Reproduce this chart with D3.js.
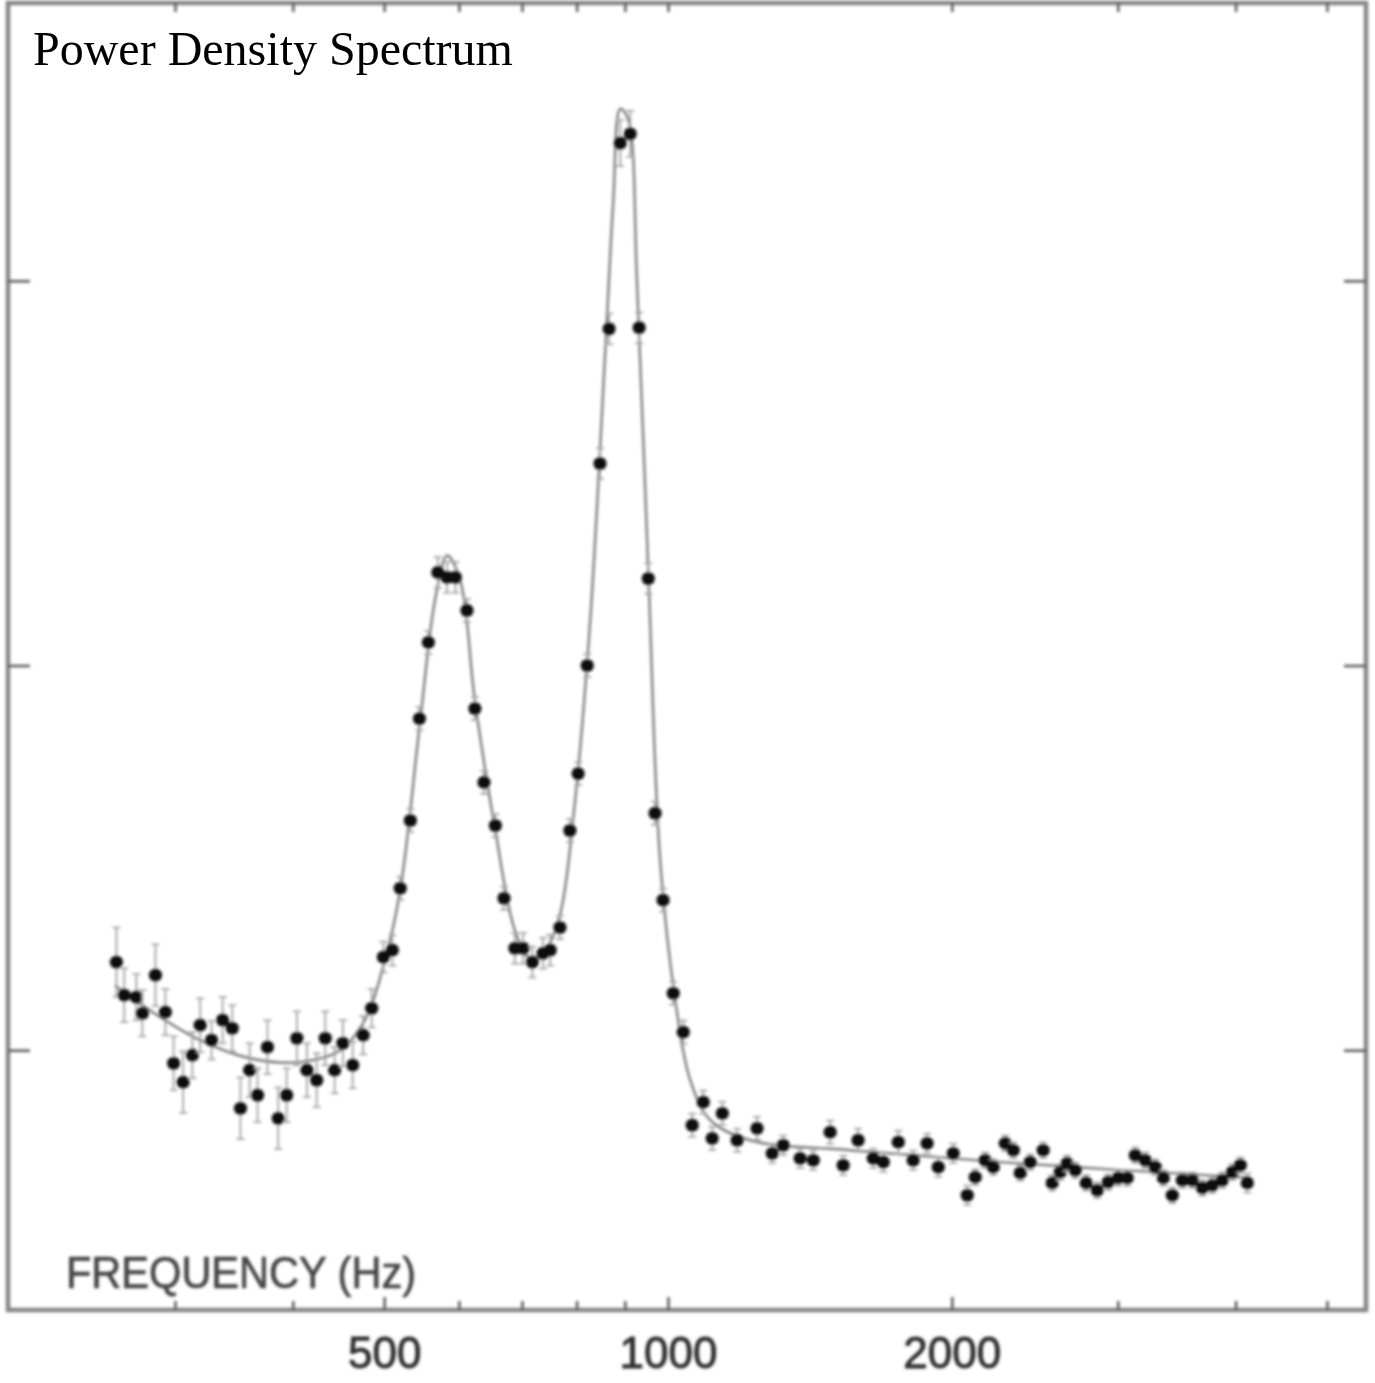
<!DOCTYPE html>
<html>
<head>
<meta charset="utf-8">
<script src="https://cdn.jsdelivr.net/npm/d3@7"></script>
<style>
  html, body { margin: 0; padding: 0; background: #fff; }
  svg { display: block; }
</style>
</head>
<body>
<svg id="chart" width="1375" height="1383"></svg>
<script>
// Measured spectrum: frequency (Hz), power (arbitrary units), 1-sigma error
const freqs = [
  260, 265, 273, 277, 286, 293, 299, 306, 313, 319, 328, 337, 345, 352, 360,
  367, 376, 386, 394, 404, 414, 424, 433, 443, 452, 463, 475, 485, 499, 510,
  520, 533, 545, 557, 570, 583, 595, 612, 624, 638, 656, 670, 688, 702, 718,
  737, 750, 768, 787, 803, 821,
  847, 866, 890, 912, 932, 953, 969, 988, 1013, 1038, 1061, 1090, 1114, 1142,
  1184, 1243, 1290, 1325, 1381, 1426, 1486, 1534, 1591, 1651, 1692, 1755, 1820,
  1883, 1935, 2007, 2077, 2118, 2170, 2213, 2279, 2324, 2364, 2422, 2500, 2556,
  2606, 2651, 2704, 2777, 2853, 2930, 3003, 3070, 3131, 3208, 3287, 3353, 3427,
  3512, 3599, 3688, 3779, 3872, 3968, 4046, 4116
];
const power = [
  1.229, 1.143, 1.138, 1.096, 1.195, 1.099, 0.966, 0.917, 0.987, 1.065, 1.026, 1.078, 1.057, 0.849, 0.948,
  0.883, 1.008, 0.823, 0.883, 1.031, 0.948, 0.922, 1.031, 0.948, 1.018, 0.961, 1.039, 1.109, 1.242, 1.260,
  1.421, 1.597, 1.862, 2.060, 2.242, 2.229, 2.229, 2.143, 1.888, 1.696, 1.584, 1.395, 1.265, 1.265, 1.229,
  1.252, 1.260, 1.319, 1.571, 1.719, 2.000,
  2.525, 2.875, 3.358, 3.382, 2.878, 2.226, 1.616, 1.390, 1.148, 1.047, 0.805, 0.865, 0.771, 0.836,
  0.766, 0.797, 0.732, 0.753, 0.719, 0.714, 0.787, 0.701, 0.766, 0.719, 0.709, 0.761, 0.714,
  0.758, 0.696, 0.732, 0.623, 0.670, 0.714, 0.696, 0.758, 0.740, 0.681, 0.709, 0.740, 0.655,
  0.683, 0.706, 0.688, 0.655, 0.636, 0.657, 0.668, 0.668, 0.727, 0.714, 0.696, 0.668, 0.623,
  0.662, 0.662, 0.642, 0.649, 0.662, 0.683, 0.701, 0.655
];
const errors = [
  0.09, 0.07, 0.06, 0.06, 0.08, 0.06, 0.07, 0.08, 0.06, 0.07, 0.05, 0.06, 0.06, 0.08, 0.07,
  0.07, 0.07, 0.08, 0.07, 0.07, 0.07, 0.07, 0.07, 0.06, 0.06, 0.06, 0.05, 0.05, 0.04, 0.04,
  0.03, 0.03, 0.03, 0.03, 0.04, 0.04, 0.04, 0.03, 0.03, 0.03, 0.03, 0.03, 0.04, 0.04, 0.04,
  0.04, 0.04, 0.03, 0.03, 0.03, 0.03,
  0.04, 0.04, 0.06, 0.06, 0.04, 0.04, 0.03, 0.03, 0.03, 0.03, 0.03, 0.03, 0.03, 0.03,
  0.03, 0.03, 0.025, 0.025, 0.025, 0.025, 0.03, 0.025, 0.03, 0.025, 0.025, 0.03, 0.025,
  0.025, 0.025, 0.025, 0.025, 0.02, 0.02, 0.02, 0.02, 0.02, 0.02, 0.02, 0.02, 0.02,
  0.02, 0.02, 0.02, 0.02, 0.02, 0.02, 0.02, 0.02, 0.02, 0.02, 0.02, 0.02, 0.02,
  0.02, 0.02, 0.02, 0.02, 0.02, 0.02, 0.02, 0.025
];

// Fitted model (two resonances on a continuum)
const fitFreqs = [259, 282, 319, 360, 407, 449, 477, 501, 520, 546, 566, 583, 602, 624,
  656, 688, 714, 741, 768, 797, 827, 858, 875, 890, 907, 927, 953, 981, 1018, 1056,
  1109, 1222, 1561, 2251, 4146];
const fitPower = [1.169, 1.104, 1.026, 0.979, 0.969, 1.000, 1.078, 1.234, 1.416, 1.857, 2.169, 2.286, 2.221, 1.909,
  1.571, 1.312, 1.239, 1.260, 1.351, 1.649, 2.117, 2.818, 3.208, 3.447, 3.421, 3.000, 2.247, 1.494, 1.130, 0.922,
  0.818, 0.766, 0.740, 0.709, 0.668];

// Axis ticks
const xMinorTicks = [300, 400, 600, 700, 800, 900, 3000, 4000, 5000];
const xMajorTicks = [500, 1000, 2000];
const yTicks = [1, 2, 3];

const svg = d3.select("#chart");

const frame = { left: 9, right: 1366, top: 3, bottom: 1310 };

const x = d3.scaleLog().domain([200, 5500]).range([frame.left, frame.right]);
const y = d3.scaleLinear().domain([0.3247, 3.722]).range([frame.bottom, frame.top]);

const defs = svg.append("defs");
defs.append("filter").attr("id", "soft")
  .attr("x", "-5%").attr("y", "-5%").attr("width", "110%").attr("height", "110%")
  .append("feGaussianBlur").attr("stdDeviation", 1.6);

const plot = svg.append("g").attr("filter", "url(#soft)");

// Frame
plot.append("rect")
  .attr("x", frame.left - 1).attr("y", frame.top)
  .attr("width", frame.right - frame.left + 1).attr("height", frame.bottom - frame.top)
  .attr("fill", "none").attr("stroke", "#858585").attr("stroke-width", 4.5);

// Tick marks on all four sides
function styleAxis(g) {
  g.select(".domain").remove();
  g.selectAll(".tick line").attr("stroke", "#555").attr("stroke-width", 2.5);
}

const xAllTicks = xMinorTicks.concat(xMajorTicks).sort((a, b) => a - b);

plot.append("g")
  .attr("transform", `translate(0,${frame.bottom})`)
  .call(d3.axisBottom(x).tickValues(xAllTicks).tickSize(-9).tickPadding(27)
    .tickFormat(d => xMajorTicks.includes(d) ? String(d) : ""))
  .call(styleAxis)
  .call(g => g.selectAll(".tick text")
    .attr("font-family", "Liberation Sans, Arial, sans-serif")
    .attr("font-size", 44).attr("fill", "#2e2e2e")
    .attr("stroke", "#2e2e2e").attr("stroke-width", 0.9))
  .call(g => g.selectAll(".tick").filter(d => xMajorTicks.includes(d)).select("line").attr("y2", -13));

plot.append("g")
  .attr("transform", `translate(0,${frame.top})`)
  .call(d3.axisTop(x).tickValues(xAllTicks).tickSize(-9).tickFormat(""))
  .call(styleAxis);

plot.append("g")
  .attr("transform", `translate(${frame.left - 1},0)`)
  .call(d3.axisLeft(y).tickValues(yTicks).tickSize(-22).tickFormat(""))
  .call(styleAxis);

plot.append("g")
  .attr("transform", `translate(${frame.right},0)`)
  .call(d3.axisRight(y).tickValues(yTicks).tickSize(-22).tickFormat(""))
  .call(styleAxis);

// Axis caption inside the frame
plot.append("text")
  .attr("x", 66).attr("y", 1288)
  .attr("font-family", "Liberation Sans, Arial, sans-serif")
  .attr("font-size", 44).attr("fill", "#444")
  .attr("stroke", "#444").attr("stroke-width", 0.7)
  .attr("textLength", 350).attr("lengthAdjust", "spacingAndGlyphs")
  .text("FREQUENCY (Hz)");

// Fitted curve
const fitData = fitFreqs.map((f, i) => ({ f, p: fitPower[i] }));
plot.append("path")
  .datum(fitData)
  .attr("fill", "none").attr("stroke", "#7a7a7a").attr("stroke-width", 2.4)
  .attr("d", d3.line().x(d => x(d.f)).y(d => y(d.p)).curve(d3.curveCatmullRom.alpha(0.5)));

// Data points with error bars
const data = freqs.map((f, i) => ({ f, p: power[i], e: errors[i] }));

const pts = plot.append("g").selectAll("g").data(data).join("g");
pts.append("line")
  .attr("x1", d => x(d.f)).attr("x2", d => x(d.f))
  .attr("y1", d => y(d.p - d.e)).attr("y2", d => y(d.p + d.e))
  .attr("stroke", "#a0a0a0").attr("stroke-width", 1.8);
pts.append("line")
  .attr("x1", d => x(d.f) - 4).attr("x2", d => x(d.f) + 4)
  .attr("y1", d => y(d.p + d.e)).attr("y2", d => y(d.p + d.e))
  .attr("stroke", "#a8a8a8").attr("stroke-width", 1.8);
pts.append("line")
  .attr("x1", d => x(d.f) - 4).attr("x2", d => x(d.f) + 4)
  .attr("y1", d => y(d.p - d.e)).attr("y2", d => y(d.p - d.e))
  .attr("stroke", "#a8a8a8").attr("stroke-width", 1.8);
pts.append("circle")
  .attr("cx", d => x(d.f)).attr("cy", d => y(d.p)).attr("r", 6.6)
  .attr("fill", "#111");

// Title
svg.append("text")
  .attr("x", 33).attr("y", 65)
  .attr("font-family", "Liberation Serif, Times New Roman, serif")
  .attr("font-size", 48).attr("fill", "#000")
  .text("Power Density Spectrum");
</script>
</body>
</html>
